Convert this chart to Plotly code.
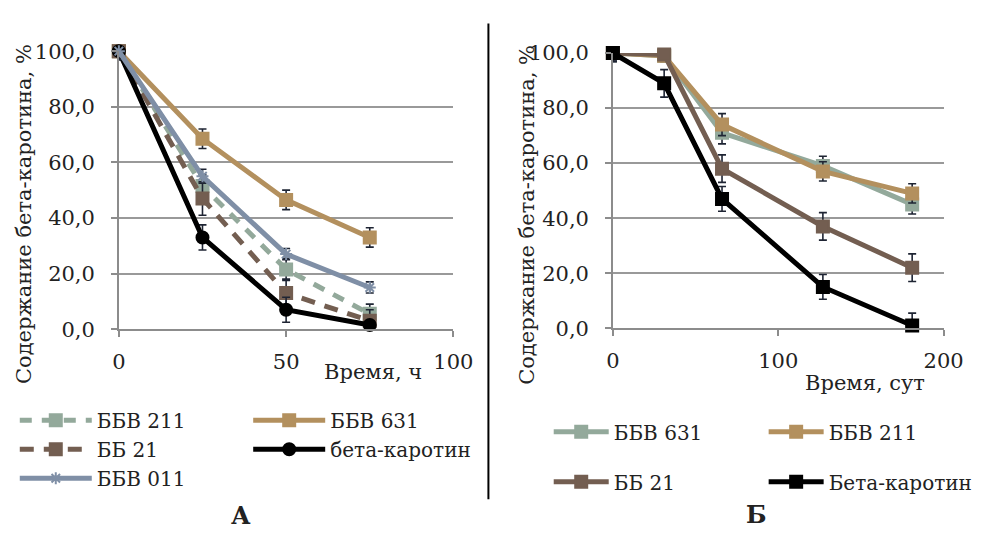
import plotly.graph_objects as go

# ---------------- data: chart A (hours) ----------------
a_time = [0, 25, 50, 75]
a_names = ["ББВ 211", "ББВ 631", "ББ 21", "бета-каротин", "ББВ 011"]
a_bbv211 = [100.0, 51.5, 21.5, 5.5]
a_bbv631 = [100.0, 68.5, 46.5, 33.0]
a_bb21 = [100.0, 47.0, 13.0, 3.0]
a_beta = [100.0, 33.0, 7.0, 1.5]
a_bbv011 = [100.0, 55.0, 27.0, 15.0]
a_err211 = [3.0, 4.0, 4.0, 3.5]
a_err631 = [3.0, 3.5, 3.5, 3.5]
a_err21 = [3.0, 6.0, 5.0, 4.0]
a_errbeta = [3.0, 4.5, 4.5, 1.0]
a_err011 = [3.0, 2.5, 2.0, 2.0]

# ---------------- data: chart Б (days) ----------------
b_time = [0, 31, 66, 127, 181]
b_names = ["ББВ 631", "ББВ 211", "ББ 21", "Бета-каротин"]
b_bbv631 = [100.0, 99.0, 71.0, 59.0, 45.0]
b_bbv211 = [100.0, 99.0, 74.0, 57.0, 49.0]
b_bb21 = [100.0, 99.5, 58.0, 37.0, 22.0]
b_beta = [100.0, 89.0, 47.0, 15.0, 1.0]
b_err631 = [3.0, 2.0, 4.0, 3.5, 3.5]
b_err211 = [3.0, 2.0, 4.0, 3.5, 3.5]
b_err21 = [3.0, 2.0, 5.0, 5.0, 5.0]
b_errbeta = [3.0, 5.0, 4.5, 4.5, 4.5]

y_ticks = [0, 20, 40, 60, 80, 100]
a_xticks = [0, 50, 100]
b_xticks = [0, 100, 200]

# ---------------- styles ----------------
GREEN = "#93A99B"
TAN = "#B3905E"
BROWN = "#735E51"
BLACK = "#000000"
BLUE = "#7F8FA6"
ERR = "#1E2433"
TXT = "#222222"
FONT = "DejaVu Serif"
W, H = 984, 537


def px_x(p):
    return p / W


def px_y(p):
    return 1 - p / H


fig = go.Figure()


def add(x, y, err, name, color, symbol, dash, xa, ya, legend, msize=12, lw=5):
    fig.add_trace(go.Scatter(
        x=x, y=y, name=name, mode="lines+markers",
        xaxis=xa, yaxis=ya, legend=legend, legendgroup=name + legend,
        line=dict(color=color, width=lw, dash=dash),
        marker=dict(color=color, size=msize, symbol=symbol,
                    line=dict(color=color, width=2)),
        error_y=dict(type="data", array=err, visible=True,
                     color=ERR, thickness=1.6, width=4),
        cliponaxis=False,
    ))


# chart A
add(a_time, a_bbv211, a_err211, a_names[0], GREEN, "square", "12px,10px", "x", "y", "legend")
add(a_time, a_bbv631, a_err631, a_names[1], TAN, "square", "solid", "x", "y", "legend2")
add(a_time, a_bb21, a_err21, a_names[2], BROWN, "square", "14px,10px", "x", "y", "legend")
add(a_time, a_beta, a_errbeta, a_names[3], BLACK, "circle", "solid", "x", "y", "legend2")
add(a_time, a_bbv011, a_err011, a_names[4], BLUE, "asterisk-open", "solid", "x", "y", "legend", msize=10)

# chart Б
add(b_time, b_bbv631, b_err631, b_names[0], GREEN, "square", "solid", "x2", "y2", "legend3")
add(b_time, b_bbv211, b_err211, b_names[1], TAN, "square", "solid", "x2", "y2", "legend4")
add(b_time, b_bb21, b_err21, b_names[2], BROWN, "square", "solid", "x2", "y2", "legend3")
add(b_time, b_beta, b_errbeta, b_names[3], BLACK, "square", "solid", "x2", "y2", "legend4")

axis_common = dict(
    showline=True, linecolor="#8C8C8C", linewidth=1.5,
    ticks="outside", ticklen=6, tickcolor="#8C8C8C", tickwidth=1.5,
    tickfont=dict(family=FONT, size=21, color=TXT),
    zeroline=False,
)

LFONT = dict(family=FONT, size=20, color=TXT)

fig.update_layout(
    width=W, height=H,
    margin=dict(l=0, r=0, t=0, b=0),
    paper_bgcolor="white", plot_bgcolor="white",
    separators=", ",
    font=dict(family=FONT, size=20, color=TXT),
    xaxis=dict(domain=[px_x(115), px_x(459)], range=[0, 100], tickvals=a_xticks,
               showgrid=False, anchor="y", ticklabelstandoff=7, **axis_common),
    yaxis=dict(domain=[px_y(332), px_y(41)], range=[0, 100], tickvals=y_ticks,
               tickformat=".1f", showgrid=True, gridcolor="#999999", gridwidth=1.5,
               anchor="x", ticklabelstandoff=12, **axis_common),
    xaxis2=dict(domain=[px_x(623), px_x(963)], range=[0, 200], tickvals=b_xticks,
                showgrid=False, anchor="y2", ticklabelstandoff=7, **axis_common),
    yaxis2=dict(domain=[px_y(331), px_y(43)], range=[0, 100], tickvals=y_ticks,
                tickformat=".1f", showgrid=True, gridcolor="#999999", gridwidth=1.5,
                anchor="x2", ticklabelstandoff=12, **axis_common),
    legend=dict(x=px_x(8), y=px_y(407), xanchor="left", yanchor="top",
                itemwidth=72, tracegroupgap=0, bgcolor="rgba(0,0,0,0)", font=LFONT),
    legend2=dict(x=px_x(248), y=px_y(407), xanchor="left", yanchor="top",
                 itemwidth=72, tracegroupgap=0, bgcolor="rgba(0,0,0,0)", font=LFONT),
    legend3=dict(x=px_x(557), y=px_y(419), xanchor="left", yanchor="top",
                 itemwidth=55, tracegroupgap=21, bgcolor="rgba(0,0,0,0)", font=LFONT),
    legend4=dict(x=px_x(778), y=px_y(419), xanchor="left", yanchor="top",
                 itemwidth=55, tracegroupgap=21, bgcolor="rgba(0,0,0,0)", font=LFONT),
    shapes=[dict(type="line", xref="paper", yref="paper",
                 x0=px_x(495), x1=px_x(495), y0=px_y(12), y1=px_y(510),
                 line=dict(color="black", width=2))],
)

annots = [
    dict(text="Содержание бета-каротина, %", x=px_x(17), y=px_y(212), textangle=-90, size=21),
    dict(text="Содержание бета-каротина, %", x=px_x(534), y=px_y(212), textangle=-90, size=21),
    dict(text="Время, ч", x=px_x(376), y=px_y(377), size=21),
    dict(text="Время, сут", x=px_x(882), y=px_y(388), size=21),
    dict(text="<b>А</b>", x=px_x(241), y=px_y(527), size=24),
    dict(text="<b>Б</b>", x=px_x(771), y=px_y(526), size=24),
]
for a in annots:
    fig.add_annotation(xref="paper", yref="paper", showarrow=False,
                       xanchor="center", yanchor="middle",
                       font=dict(family=FONT, color=TXT, size=a["size"]),
                       text=a["text"], x=a["x"], y=a["y"],
                       textangle=a.get("textangle", 0))

fig.write_html("out.html")
